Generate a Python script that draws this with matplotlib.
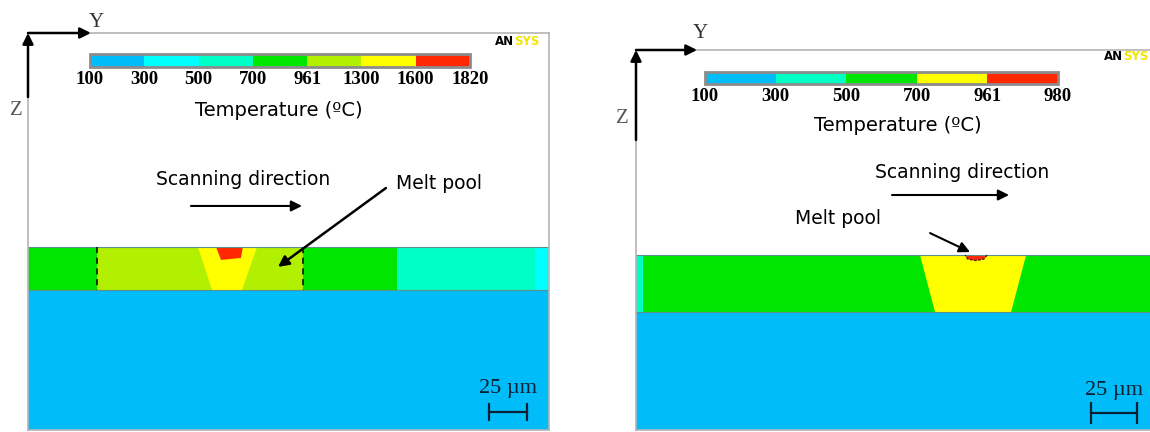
import numpy as np
import matplotlib.pyplot as plt
from matplotlib.colors import ListedColormap, BoundaryNorm
from matplotlib.cm import ScalarMappable

# ---- dados (posicoes em um, profundidade Z medida a partir do topo do quadro) ----

# painel esquerdo
levels_left = [100, 300, 500, 700, 961, 1300, 1600, 1820]
colors_left = ['#00bdfa', '#00ffff', '#00ffc4', '#00e600', '#b0f000', '#ffff00', '#ff2800']
size_left = [342.8, 261.2]                       # largura, altura
layer_left = [140.8, 169.1]                      # topo e base da camada
zones_left = [0, 45.4, 180.9, 242.8, 333.6, 342.8]
zone_temps_left = [800, 1100, 800, 600, 400]
haz_x_left = [111.8, 150.7, 140.8, 121.1]
haz_z_left = [140.8, 140.8, 169.1, 169.1]
haz_temp_left = 1450
pool_x_left = [123.7, 141.4, 140.1, 127.0]
pool_z_left = [140.8, 140.8, 148.0, 149.3]
pool_temp_left = 1700

# painel direito
levels_right = [100, 300, 500, 700, 961, 980]
colors_right = ['#00bdfa', '#00ffc4', '#00e600', '#ffff00', '#ff2800']
size_right = [279.3, 206.5]
layer_right = [111.4, 142.4]
zones_right = [0, 3.8, 279.3]
zone_temps_right = [400, 600]
haz_x_right = [154.3, 212.0, 203.8, 162.5]
haz_z_right = [111.4, 111.4, 142.4, 142.4]
haz_temp_right = 800
pool_x_right = [178.8, 190.8, 189.0, 184.5, 180.3]
pool_z_right = [111.4, 111.4, 113.6, 114.4, 113.6]
pool_temp_right = 970

substrate_temp = 200
scale_len = 25

W, H = 1150, 432
fig = plt.figure(figsize=(W / 100, H / 100), dpi=100)

serif = 'Liberation Serif'
sans = 'DejaVu Sans'
txt_size = 13.5


def fig_rect(x0, y0, x1, y1):
	return [x0 / W, 1 - y1 / H, (x1 - x0) / W, (y1 - y0) / H]


def panel(rect, size, levels, colors, layer, zones, zone_temps, haz, haz_temp, pool, pool_temp, cbar_rect):
	ax = fig.add_axes(fig_rect(*rect))
	ax.set_xlim(0, size[0])
	ax.set_ylim(size[1], 0)
	ax.set_xticks([])
	ax.set_yticks([])
	for s in ax.spines.values():
		s.set_color('#b4b4b4')
		s.set_linewidth(1.2)

	cmap = ListedColormap(colors)
	norm = BoundaryNorm(levels, len(colors))

	# substrato
	ax.fill_between([0, size[0]], layer[1], size[1], color=cmap(norm(substrate_temp)), lw=0)
	# zonas da camada
	for i in range(len(zone_temps)):
		ax.fill_between([zones[i], zones[i + 1]], layer[0], layer[1],
						color=cmap(norm(zone_temps[i])), lw=0)
	ax.fill(haz[0], haz[1], color=cmap(norm(haz_temp)), lw=0)
	ax.fill(pool[0], pool[1], color=cmap(norm(pool_temp)), lw=0)
	ax.hlines(layer, 0, size[0], color='#5f8f8f', lw=0.8)

	# barra de cores
	cax = fig.add_axes(fig_rect(*cbar_rect))
	cb = fig.colorbar(ScalarMappable(norm=norm, cmap=cmap), cax=cax,
					  orientation='horizontal', ticks=levels)
	cb.outline.set_edgecolor('#8c8c8c')
	cb.outline.set_linewidth(2)
	cax.tick_params(length=0, pad=3)
	cax.set_xticklabels([str(v) for v in levels], fontfamily=serif,
						fontweight='bold', fontsize=13.5)
	return ax


def triad(ax, zlen, ylen, ypos, zpos):
	arrow = dict(arrowstyle='-|>', color='k', lw=1.8, mutation_scale=16, shrinkA=0, shrinkB=0)
	ax.annotate('', xy=(0, 0), xytext=(0, zlen), arrowprops=arrow, annotation_clip=False)
	ax.annotate('', xy=(ylen, 0), xytext=(0, 0), arrowprops=arrow, annotation_clip=False)
	ax.text(ypos[0], ypos[1], 'Y', fontfamily=serif, fontsize=15, color='#333333',
			ha='center', va='center', clip_on=False)
	ax.text(zpos[0], zpos[1], 'Z', fontfamily=serif, fontsize=15, color='#555555',
			ha='center', va='center', clip_on=False)


def logo(ax, x, y):
	ax.text(x, y, 'AN', fontfamily=sans, fontweight='bold', fontsize=8.5,
			ha='right', va='center', clip_on=False)
	ax.text(x, y, 'SYS', fontfamily=sans, fontweight='bold', fontsize=8.5,
			color='#f2e600', ha='left', va='center', clip_on=False)


def scale_bar(ax, x0, z, ztext):
	ax.plot([x0, x0 + scale_len], [z, z], color='#0d1f33', lw=1.6)
	ax.vlines([x0, x0 + scale_len], z - 6, z + 6, color='#0d1f33', lw=1.6)
	ax.text(x0 + scale_len / 2, ztext, '25 µm', fontfamily=serif, fontsize=16,
			color='#0d1f33', ha='center', va='center')


# ---- painel esquerdo ----
ax1 = panel((28, 33, 549, 430), size_left, levels_left, colors_left, layer_left,
			zones_left, zone_temps_left, (haz_x_left, haz_z_left), haz_temp_left,
			(pool_x_left, pool_z_left), pool_temp_left, (90, 54, 470, 67))
ax1.vlines(zones_left[1:3], layer_left[0], layer_left[1], color='k', lw=1.1, linestyles=(0, (4, 3)))
triad(ax1, 42.1, 41.4, (44.7, -7.2), (-7.9, 51.3))
logo(ax1, 319.7, 5.3)
ax1.text(165.1, 51.3, 'Temperature (ºC)', fontfamily=sans, fontsize=14, ha='center', va='center')
ax1.text(141.4, 96.7, 'Scanning direction', fontfamily=sans, fontsize=txt_size, ha='center', va='center')
ax1.annotate('', xy=(180.3, 113.8), xytext=(107.2, 113.8),
			 arrowprops=dict(arrowstyle='-|>', color='k', lw=1.5, mutation_scale=16, shrinkA=0, shrinkB=0))
ax1.text(270.4, 98.7, 'Melt pool', fontfamily=sans, fontsize=txt_size, ha='center', va='center')
ax1.annotate('', xy=(164.5, 153.9), xytext=(235.5, 102.0),
			 arrowprops=dict(arrowstyle='-|>', color='k', lw=1.8, mutation_scale=16, shrinkA=0, shrinkB=0))
scale_bar(ax1, 303.3, 249.3, 233.6)

# ---- painel direito ----
ax2 = panel((636, 50, 1150, 430), size_right, levels_right, colors_right, layer_right,
			zones_right, zone_temps_right, (haz_x_right, haz_z_right), haz_temp_right,
			(pool_x_right, pool_z_right), pool_temp_right, (705, 72, 1058, 84))
ax2.spines['right'].set_visible(False)
ax2.plot(pool_x_right[1:] + [pool_x_right[0]], pool_z_right[1:] + [pool_z_right[0]],
		 color='#5a1a10', lw=1, ls=(0, (2, 1)))
triad(ax2, 48.9, 33.2, (34.8, -9.2), (-7.6, 37.0))
logo(ax2, 264.5, 3.8)
ax2.text(142.4, 40.8, 'Temperature (ºC)', fontfamily=sans, fontsize=14, ha='center', va='center')
ax2.text(177.2, 66.3, 'Scanning direction', fontfamily=sans, fontsize=txt_size, ha='center', va='center')
ax2.annotate('', xy=(202.7, 78.8), xytext=(139.1, 78.8),
			 arrowprops=dict(arrowstyle='-|>', color='k', lw=1.5, mutation_scale=16, shrinkA=0, shrinkB=0))
ax2.text(109.8, 91.8, 'Melt pool', fontfamily=sans, fontsize=txt_size, ha='center', va='center')
ax2.annotate('', xy=(181.5, 109.8), xytext=(159.8, 99.5),
			 arrowprops=dict(arrowstyle='-|>', color='k', lw=1.5, mutation_scale=16, shrinkA=0, shrinkB=0))
scale_bar(ax2, 247.3, 197.3, 185.3)

fig.savefig('out.png', dpi=100)
